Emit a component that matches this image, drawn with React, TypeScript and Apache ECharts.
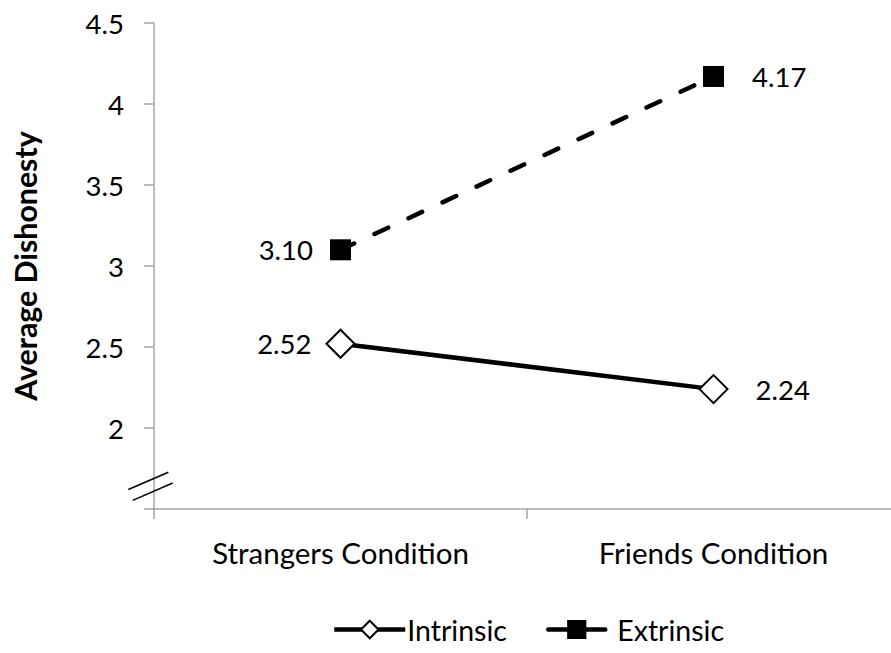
import React, { useEffect, useRef } from "react";
import * as echarts from "echarts";

// Conditions on the category axis
const categories = ["Strangers Condition", "Friends Condition"];
// Mean dishonesty per condition
const intrinsic = [2.52, 2.24];
const extrinsic = [3.1, 4.17];
// Value axis range and step
const yMin = 1.5;
const yMax = 4.5;
const yStep = 0.5;

const FONT = "Lato";
const AXIS_GRAY = "#a6a6a6";
const NUM_SIZE = 27.5;
const WORD_SIZE = 29.5;
const GRID_LEFT = 154;

// Label placement per category: left of the first point, right of the second
const labelSides = ["left", "right"];

function withLabels(values: number[], distances: number[]) {
  return values.map((v, i) => ({
    value: v,
    label: { position: labelSides[i], distance: distances[i] },
  }));
}

export default function App() {
  const ref = useRef<HTMLDivElement>(null);

  useEffect(() => {
    if (!ref.current) return;
    const chart = echarts.init(ref.current, undefined, { renderer: "svg" });

    const labelStyle = {
      show: true,
      fontFamily: FONT,
      fontSize: NUM_SIZE,
      color: "#000",
      formatter: (p: any) => Number(p.value).toFixed(2),
    };

    const legendText = { fontFamily: FONT, fontSize: 28.5, color: "#000" };

    chart.setOption({
      animation: false,
      backgroundColor: "#fff",
      // the plot runs slightly past the right edge of the visible area
      grid: { left: GRID_LEFT, top: 23, width: 746, height: 486, containLabel: false },
      legend: [
        {
          left: 327,
          bottom: 4,
          itemWidth: 71,
          itemHeight: 22,
          lineStyle: { width: 4.5 },
          textStyle: { ...legendText, padding: [0, 0, 0, -3] },
          data: [{ name: "Intrinsic" }],
        },
        {
          left: 541,
          bottom: 4,
          itemWidth: 57,
          itemHeight: 24,
          lineStyle: { width: 4.5, type: "solid" },
          textStyle: { ...legendText, padding: [0, 0, 0, 7] },
          data: [{ name: "Extrinsic", lineStyle: { type: "solid", width: 4.5 } }],
        },
      ],
      xAxis: {
        type: "category",
        data: categories,
        boundaryGap: true,
        axisLine: { show: true, lineStyle: { color: AXIS_GRAY, width: 1.5 } },
        axisTick: {
          show: true,
          alignWithLabel: false,
          length: 10,
          lineStyle: { color: AXIS_GRAY, width: 1.5 },
        },
        axisLabel: {
          fontFamily: FONT,
          fontSize: WORD_SIZE,
          color: "#000",
          margin: 28,
        },
        splitLine: { show: false },
      },
      yAxis: {
        type: "value",
        min: yMin,
        max: yMax,
        interval: yStep,
        name: "Average Dishonesty",
        nameLocation: "middle",
        nameGap: 114,
        nameTextStyle: {
          fontFamily: FONT,
          fontWeight: "bold",
          fontSize: 30.3,
          color: "#000",
        },
        axisLine: { show: true, lineStyle: { color: AXIS_GRAY, width: 1.5 } },
        axisTick: {
          show: true,
          inside: false,
          length: 10,
          lineStyle: { color: AXIS_GRAY, width: 1.5 },
        },
        axisLabel: {
          fontFamily: FONT,
          fontSize: NUM_SIZE,
          color: "#000",
          margin: 30,
          formatter: (v: number) => (v === yMin ? "" : String(v)),
        },
        splitLine: { show: false },
      },
      series: [
        {
          name: "Intrinsic",
          type: "line",
          data: withLabels(intrinsic, [14, 27]),
          symbol: "diamond",
          symbolSize: 28,
          itemStyle: { color: "#fff", borderColor: "#000", borderWidth: 2 },
          lineStyle: { color: "#000", width: 4.5, type: "solid" },
          label: labelStyle,
          z: 3,
        },
        {
          name: "Extrinsic",
          type: "line",
          data: withLabels(extrinsic, [17, 28]),
          symbol: "rect",
          symbolSize: 21,
          itemStyle: { color: "#000", borderColor: "#000", borderWidth: 0 },
          lineStyle: {
            color: "#000",
            width: 4.5,
            type: [15, 22.5],
            cap: "round",
          },
          label: labelStyle,
          z: 3,
        },
      ],
    });

    // Axis-break marks across the lower part of the value axis
    const ay = (chart.convertToPixel({ gridIndex: 0 }, [0, 1.64]) as number[])[1];
    const dx = 20;
    const dy = -8.65;
    const mark = (cy: number, cx: number) => ({
      type: "line",
      shape: { x1: cx - dx, y1: cy - dy, x2: cx + dx, y2: cy + dy },
      style: { stroke: "#000", lineWidth: 1.6 },
      z: 10,
    });
    chart.setOption({
      graphic: [mark(ay - 5.4, GRID_LEFT - 5.7), mark(ay + 5.4, GRID_LEFT - 1.3)],
    });

    return () => chart.dispose();
  }, []);

  return (
    <div style={{ position: "absolute", left: 0, top: 0, width: 891, height: 653, overflow: "hidden" }}>
      <div ref={ref} style={{ width: 900, height: 653 }} />
    </div>
  );
}
